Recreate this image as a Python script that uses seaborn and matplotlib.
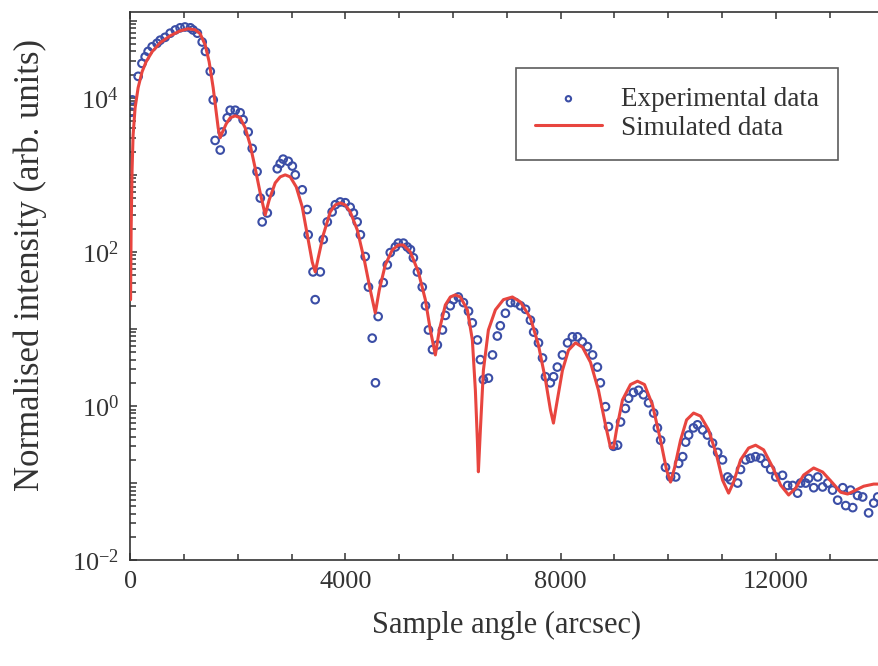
import numpy as np
import pandas as pd
import matplotlib
matplotlib.use("Agg")
import matplotlib.pyplot as plt
import matplotlib.ticker as mticker
import seaborn as sns

# ── Data ─────────────────────────────────────────────────────
exp_angle = [20, 40, 150, 220, 280, 335, 410, 500, 560, 650, 745, 840, 930, 1020,
             1120, 1170, 1250, 1340, 1400, 1490, 1545, 1580, 1675, 1710, 1805, 1860,
             1955, 2045, 2100, 2195, 2270, 2360, 2420, 2455, 2550, 2605, 2735, 2790,
             2845, 2940, 3015, 3070, 3200, 3290, 3310, 3400, 3440, 3535, 3590, 3665,
             3755, 3815, 3905, 4000, 4090, 4150, 4220, 4280, 4370, 4430, 4500, 4560,
             4610, 4705, 4780, 4835, 4930, 4985, 5080, 5150, 5210, 5265, 5340, 5430,
             5490, 5545, 5620, 5710, 5805, 5860, 5950, 6010, 6100, 6195, 6290, 6360,
             6455, 6510, 6565, 6660, 6735, 6825, 6880, 6975, 7070, 7160, 7255, 7350,
             7440, 7500, 7590, 7665, 7720, 7810, 7870, 7940, 8035, 8130, 8220, 8315,
             8405, 8500, 8595, 8685, 8740, 8835, 8890, 8985, 9060, 9115, 9205, 9265,
             9355, 9450, 9540, 9635, 9730, 9800, 9860, 9950, 10045, 10140, 10195, 10270,
             10325, 10380, 10470, 10545, 10640, 10730, 10825, 10920, 11010, 11105, 11160,
             11290, 11345, 11440, 11530, 11625, 11720, 11810, 11905, 12000, 12125, 12220,
             12315, 12405, 12460, 12555, 12610, 12705, 12780, 12870, 12965, 13055, 13150,
             13245, 13300, 13390, 13430, 13520, 13615, 13725, 13820, 13895]

exp_intensity = [6.5e3, 9.4e3, 1.9e4, 2.8e4, 3.4e4, 4.0e4, 4.6e4, 5.1e4, 5.6e4, 6.1e4,
                 6.9e4, 7.6e4, 8.1e4, 8.3e4, 8.1e4, 7.6e4, 6.9e4, 5.3e4, 4.0e4, 2.2e4,
                 9.4e3, 2.8e3, 2.1e3, 3.6e3, 5.5e3, 6.9e3, 6.9e3, 6.4e3, 5.2e3, 3.6e3,
                 2.2e3, 1.1e3, 500, 245, 320, 590, 1.2e3, 1.4e3, 1.6e3, 1.5e3, 1.3e3,
                 1.0e3, 640, 355, 167, 55, 24, 55, 145, 245, 330, 410, 445, 435, 380,
                 320, 245, 167, 87, 35, 7.6, 2.0, 14.5, 40, 68, 98, 116, 130, 130, 116,
                 107, 84, 55, 35, 20, 9.7, 5.4, 6.2, 9.7, 15, 20, 24, 26, 22, 17, 12,
                 7.2, 4.0, 2.2, 2.3, 4.6, 8.1, 11, 16, 22, 22, 20, 18, 13, 9.1, 6.6,
                 4.2, 2.4, 2.0, 2.4, 3.2, 4.6, 6.6, 7.9, 7.9, 6.8, 5.9, 4.6, 3.2, 2.0,
                 0.98, 0.54, 0.30, 0.31, 0.62, 0.93, 1.26, 1.5, 1.6, 1.4, 1.1, 0.81,
                 0.52, 0.36, 0.16, 0.12, 0.12, 0.18, 0.22, 0.34, 0.42, 0.52, 0.57, 0.49,
                 0.42, 0.33, 0.25, 0.20, 0.12, 0.11, 0.10, 0.15, 0.20, 0.21, 0.22, 0.21,
                 0.18, 0.15, 0.12, 0.126, 0.093, 0.093, 0.074, 0.10, 0.10, 0.115, 0.087,
                 0.12, 0.089, 0.10, 0.081, 0.060, 0.087, 0.051, 0.081, 0.048, 0.069,
                 0.066, 0.041, 0.055, 0.066]

sim_angle = [9, 19, 37, 56, 93, 149, 223, 298, 409, 558, 744, 930, 1079, 1209, 1302,
             1395, 1469, 1544, 1600, 1637, 1674, 1711, 1786, 1860, 1953, 2046, 2139,
             2232, 2325, 2418, 2511, 2585, 2697, 2790, 2883, 2976, 3088, 3199, 3311,
             3385, 3441, 3497, 3590, 3720, 3813, 3906, 3999, 4092, 4222, 4352, 4464,
             4557, 4631, 4743, 4873, 4985, 5078, 5208, 5357, 5487, 5580, 5673, 5747,
             5859, 5952, 6045, 6138, 6268, 6361, 6417, 6454, 6473, 6510, 6566, 6659,
             6789, 6938, 7105, 7254, 7440, 7589, 7719, 7812, 7868, 7924, 8035, 8147,
             8277, 8407, 8556, 8705, 8835, 8928, 8984, 9040, 9151, 9300, 9430, 9560,
             9709, 9858, 9970, 10044, 10118, 10230, 10342, 10472, 10602, 10751, 10900,
             11011, 11123, 11216, 11346, 11495, 11625, 11774, 11941, 12090, 12239,
             12369, 12518, 12704, 12871, 13057, 13206, 13336, 13485, 13634, 13820, 14000]

sim_intensity = [24, 193, 1160, 3300, 7400, 13500, 21800, 29400, 39600, 51800, 63800,
                 74100, 78700, 76400, 67800, 48800, 29400, 13500, 6580, 4070, 3030,
                 3510, 4590, 5500, 5840, 5500, 4070, 2450, 1220, 583, 303, 473, 787,
                 942, 1000, 942, 698, 384, 143, 74, 55, 84, 166, 330, 407, 433, 407,
                 330, 193, 79, 32, 16.1, 32, 68, 106, 123, 123, 100, 55, 24, 9.7, 4.6,
                 9.7, 20.5, 26, 27.7, 26, 17.7, 7.2, 1.6, 0.36, 0.14, 0.49, 2.9, 9.7,
                 17.7, 24, 26, 22.4, 13.9, 6.2, 2.2, 0.89, 0.60, 1.03, 2.9, 5.3, 6.6,
                 5.8, 3.7, 1.6, 0.57, 0.29, 0.285, 0.49, 1.2, 1.9, 2.1, 1.9, 1.03, 0.36,
                 0.148, 0.103, 0.157, 0.36, 0.66, 0.81, 0.74, 0.49, 0.23, 0.109, 0.074,
                 0.103, 0.20, 0.285, 0.31, 0.27, 0.161, 0.094, 0.070, 0.086, 0.127,
                 0.157, 0.139, 0.100, 0.076, 0.072, 0.081, 0.091, 0.097, 0.097]

exp_df = pd.DataFrame({'angle': exp_angle, 'intensity': exp_intensity})
sim_df = pd.DataFrame({'angle': sim_angle, 'intensity': sim_intensity})

# ── Style ────────────────────────────────────────────────────
sns.set_style("ticks")
plt.rcParams['font.family'] = ['Liberation Serif', 'DejaVu Serif']
plt.rcParams['mathtext.fontset'] = 'custom'
plt.rcParams['mathtext.rm'] = 'Liberation Serif'
plt.rcParams['mathtext.it'] = 'Liberation Serif:italic'
plt.rcParams['text.color'] = '#333333'
plt.rcParams['axes.labelcolor'] = '#333333'
plt.rcParams['xtick.color'] = '#333333'
plt.rcParams['ytick.color'] = '#333333'

fig = plt.figure(figsize=(8.79, 6.66), dpi=100)
ax = fig.add_axes([0.148, 0.159, 0.857, 0.823])

sns.scatterplot(data=exp_df, x='angle', y='intensity', ax=ax,
                marker='o', s=30, facecolor='none', edgecolor='#3b4ea6',
                linewidth=1.5, label='Experimental data', zorder=2)
sns.lineplot(data=sim_df, x='angle', y='intensity', ax=ax,
             color='#e8453f', linewidth=2.2, label='Simulated data', zorder=3)

ax.set_yscale('log')
ax.set_xlim(0, 14000)
ax.set_ylim(1e-2, 1.3e5)

ax.xaxis.set_major_locator(mticker.MultipleLocator(4000))
ax.xaxis.set_minor_locator(mticker.MultipleLocator(1000))
ax.yaxis.set_major_locator(mticker.FixedLocator([10.0 ** d for d in range(-2, 6)]))
ax.yaxis.set_major_formatter(mticker.FuncFormatter(
    lambda v, p: f'$10^{{{int(round(np.log10(v)))}}}$' if round(np.log10(v)) % 2 == 0 else ''))
ax.yaxis.set_minor_locator(mticker.FixedLocator(
    [m * 10.0 ** d for d in range(-2, 6) for m in range(2, 10)]))
ax.yaxis.set_minor_formatter(mticker.NullFormatter())

ax.tick_params(which='both', direction='in', top=True, right=False)
ax.tick_params(which='major', length=5, width=1.1, labelsize=19, pad=8)
ax.tick_params(which='minor', length=4, width=1.1)
for sp in ax.spines.values():
    sp.set_linewidth(1.2)
    sp.set_color('#333333')

ax.set_xlabel('Sample angle (arcsec)', fontsize=22, labelpad=13)
ax.set_ylabel('Normalised intensity (arb. units)', fontsize=25)
ax.yaxis.set_label_coords(-0.11, 0.538)

leg = ax.legend(loc='upper right', bbox_to_anchor=(0.94, 0.898), fontsize=19.5,
                frameon=True, fancybox=False, edgecolor='#333333',
                markerscale=0.7, handlelength=2.5, handletextpad=0.7,
                labelspacing=0.15, borderpad=0.7, borderaxespad=0)
leg.get_frame().set_linewidth(1.2)

fig.savefig('out.png', dpi=100)
